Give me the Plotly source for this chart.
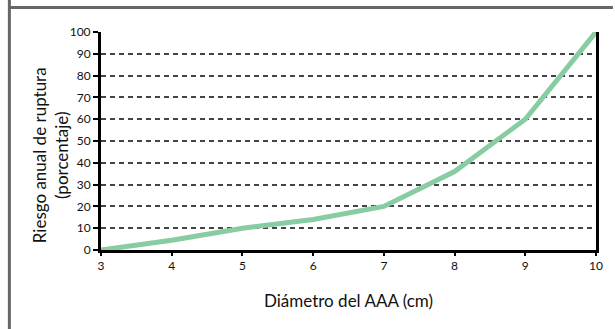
import plotly.graph_objects as go

# Aneurysm diameter (cm) vs. annual rupture risk (%)
diametro = [3, 4, 5, 6, 7, 8, 9, 10]
riesgo = [0, 4.5, 10, 14, 20, 36, 60, 100]
y_ticks = [0, 10, 20, 30, 40, 50, 60, 70, 80, 90, 100]
x_ticks = [3, 4, 5, 6, 7, 8, 9, 10]

W, H = 615, 329
L, R, T, B = 101, 17, 32, 79
pw, ph = W - L - R, H - T - B

def px_x(x):
    return (x - L) / pw

def px_y(y):
    return 1 - (y - T) / ph

FONT = "Lato"

fig = go.Figure()
fig.add_trace(go.Scatter(
    x=diametro, y=riesgo, mode="lines",
    line=dict(color="#88CCA2", width=5),
    hoverinfo="skip", showlegend=False,
))

fig.update_layout(
    width=W, height=H,
    margin=dict(l=L, r=R, t=T, b=B, pad=0),
    paper_bgcolor="white", plot_bgcolor="white",
    font=dict(family=FONT, size=12, color="#111"),
    xaxis=dict(
        range=[3, 10], tickvals=x_ticks, ticktext=[str(v) for v in x_ticks],
        showgrid=False, zeroline=False,
        showline=True, linecolor="black", linewidth=3,
        ticks="outside", ticklen=3, tickwidth=2, tickcolor="black",
        tickfont=dict(family=FONT, size=12, color="#111"),
    ),
    yaxis=dict(
        range=[0, 100], tickvals=y_ticks, ticktext=[str(v) for v in y_ticks],
        showgrid=True, gridcolor="#444", gridwidth=1.5, griddash="5px,4px",
        zeroline=False,
        showline=True, linecolor="black", linewidth=3, mirror=True,
        ticks="outside", ticklen=5, tickwidth=2, tickcolor="black",
        tickfont=dict(family=FONT, size=12, color="#111"),
    ),
    shapes=[
        # left frame edge and top rule
        dict(type="line", xref="paper", yref="paper",
             x0=px_x(9), x1=px_x(9), y0=px_y(0), y1=px_y(H),
             line=dict(color="#666", width=3)),
        dict(type="line", xref="paper", yref="paper",
             x0=px_x(8), x1=px_x(W), y0=px_y(7.5), y1=px_y(7.5),
             line=dict(color="#666", width=3)),
    ],
    annotations=[
        dict(text="Riesgo anual de ruptura<br>(porcentaje)", textangle=-90,
             xref="paper", yref="paper", x=px_x(50), y=px_y(155),
             xanchor="center", yanchor="middle", showarrow=False,
             font=dict(family=FONT, size=17, color="#111")),
        dict(text="Diámetro del AAA (cm)",
             xref="paper", yref="paper", x=px_x(350), y=px_y(300),
             xanchor="center", yanchor="middle", showarrow=False,
             font=dict(family=FONT, size=17, color="#111")),
    ],
)

fig.write_html("out.html")
